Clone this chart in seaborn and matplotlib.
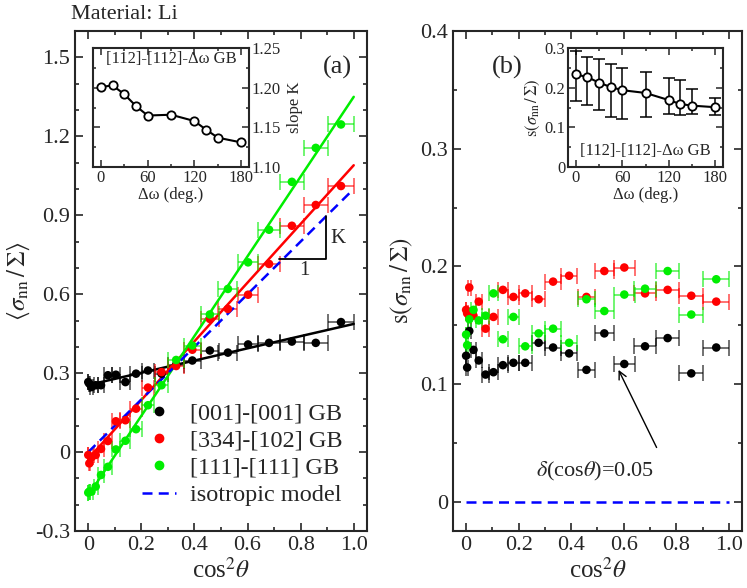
import numpy as np
import pandas as pd
import matplotlib
matplotlib.use('Agg')
import matplotlib.pyplot as plt
import seaborn as sns
from matplotlib.ticker import MultipleLocator
from matplotlib.lines import Line2D

# cos^2(theta) positions and their horizontal error half-widths
cos2 = [0.0, 0.004, 0.012, 0.028, 0.048, 0.074, 0.104, 0.14, 0.18, 0.225,
        0.276, 0.331, 0.392, 0.458, 0.526, 0.602, 0.681, 0.767, 0.857, 0.952]
dcos2 = [0.0, 0.003, 0.005, 0.008, 0.011, 0.014, 0.016, 0.019, 0.021, 0.024,
         0.026, 0.029, 0.031, 0.034, 0.036, 0.039, 0.041, 0.044, 0.046, 0.049]

# panel (a): mean normalised normal stress
mean_001 = [0.266, 0.26, 0.247, 0.254, 0.254, 0.292, 0.294, 0.266, 0.298, 0.31,
            0.298, 0.332, 0.348, 0.386, 0.378, 0.409, 0.415, 0.42, 0.415, 0.494]
mean_334 = [-0.011, -0.043, -0.02, -0.011, 0.012, 0.042, 0.117, 0.121, 0.165, 0.245,
            0.304, 0.327, 0.389, 0.506, 0.544, 0.598, 0.715, 0.86, 0.939, 1.011]
mean_111 = [-0.154, -0.15, -0.15, -0.131, -0.087, -0.056, 0.01, 0.043, 0.087, 0.178,
            0.254, 0.35, 0.405, 0.523, 0.62, 0.721, 0.845, 1.027, 1.156, 1.245]

# fitted lines (end points at cos^2 = 0 and 1)
fit_x = [0.0, 1.0]
fit_001 = [0.255, 0.487]
fit_334 = [-0.025, 1.09]
fit_111 = [-0.165, 1.35]
iso_a = [0.0, 1.0]

# panel (b): standard deviation
s_001 = [0.124, 0.114, 0.145, 0.129, 0.12, 0.108, 0.11, 0.116, 0.118, 0.118,
         0.135, 0.131, 0.126, 0.112, 0.143, 0.117, 0.132, 0.139, 0.109, 0.131]
s_334 = [0.163, 0.16, 0.182, 0.158, 0.17, 0.147, 0.157, 0.18, 0.174, 0.177,
         0.172, 0.187, 0.192, 0.174, 0.196, 0.199, 0.177, 0.18, 0.175, 0.17]
s_111 = [0.142, 0.133, 0.155, 0.163, 0.154, 0.158, 0.177, 0.138, 0.157, 0.132,
         0.143, 0.147, 0.135, 0.172, 0.162, 0.176, 0.181, 0.196, 0.159, 0.189]
iso_b = [0.0, 0.0]

# insets: [112]-[112]-dw GB
dw = [0, 15, 30, 45, 60, 90, 120, 135, 150, 180]
slope_K = [1.201, 1.203, 1.192, 1.177, 1.165, 1.166, 1.158, 1.147, 1.137, 1.131]
s_dw = [0.234, 0.227, 0.213, 0.202, 0.194, 0.187, 0.169, 0.159, 0.155, 0.151]
s_dw_lo = [0.166, 0.157, 0.143, 0.126, 0.122, 0.126, 0.134, 0.132, 0.134, 0.132]
s_dw_hi = [0.294, 0.277, 0.272, 0.261, 0.249, 0.240, 0.224, 0.220, 0.197, 0.174]

labels = ['[001]-[001] GB', '[334]-[102] GB', '[111]-[111] GB']
colors = ['black', '#ff0000', '#00ee00']

sns.set_style('ticks')
plt.rcParams['font.family'] = ['Liberation Serif', 'DejaVu Serif']
plt.rcParams['mathtext.fontset'] = 'stix'
plt.rcParams['axes.linewidth'] = 1.5
plt.rcParams['xtick.direction'] = 'in'
plt.rcParams['ytick.direction'] = 'in'

rows = []
for lab, m, s in zip(labels, [mean_001, mean_334, mean_111], [s_001, s_334, s_111]):
    for x, dx, mv, sv in zip(cos2, dcos2, m, s):
        rows.append({'GB': lab, 'cos2': x, 'dcos2': dx, 'mean': mv, 's': sv})
df = pd.DataFrame(rows)
pal = dict(zip(labels, colors))

fig = plt.figure(figsize=(7.47, 5.88), dpi=100)
ax_a = fig.add_axes([0.1004, 0.0969, 0.3909, 0.8503])
ax_b = fig.add_axes([0.6064, 0.0969, 0.3869, 0.8503])


def style_main(ax):
    ax.set_xlim(-0.05, 1.05)
    ax.set_xticks([0, 0.2, 0.4, 0.6, 0.8, 1.0])
    ax.set_xticklabels(['0', '0.2', '0.4', '0.6', '0.8', '1.0'])
    ax.xaxis.set_minor_locator(MultipleLocator(0.1))
    ax.tick_params(which='both', direction='in', top=True, right=True,
                   labelsize=16, width=1.2)
    ax.tick_params(which='major', length=6)
    ax.tick_params(which='minor', length=3)
    ax.set_xlabel(r'cos$^2\theta$', fontsize=18, labelpad=2)


# ---- panel (a)
for lab, col, fit in zip(labels, colors, [fit_001, fit_334, fit_111]):
    sub = df[df['GB'] == lab]
    ax_a.errorbar(sub['cos2'], sub['mean'], xerr=sub['dcos2'], fmt='none',
                  ecolor=col, alpha=0.6, elinewidth=1.3, capsize=5.5, capthick=1.3)
    sns.lineplot(x=fit_x, y=fit, color=col, lw=1.8, ax=ax_a)
sns.scatterplot(data=df, x='cos2', y='mean', hue='GB', palette=pal, s=38,
                edgecolor='none', ax=ax_a, legend=False, zorder=5)
sns.lineplot(x=fit_x, y=iso_a, color='#0000ff', lw=1.8, ax=ax_a,
             linestyle=(0, (4, 2.5)))

# slope triangle
ax_a.plot([0.72, 0.895, 0.895], [0.734, 0.734, 0.898], color='black', lw=1.3)
ax_a.text(0.94, 0.81, 'K', fontsize=15, ha='center', va='center')
ax_a.text(0.815, 0.69, '1', fontsize=15, ha='center', va='center')
ax_a.text(0.94, 1.46, '(a)', fontsize=19, ha='center', va='center')

ax_a.set_ylim(-0.3, 1.6)
ax_a.set_yticks([-0.3, 0, 0.3, 0.6, 0.9, 1.2, 1.5])
ax_a.set_yticklabels(['-0.3', '0', '0.3', '0.6', '0.9', '1.2', '1.5'])
ax_a.yaxis.set_minor_locator(MultipleLocator(0.1))
style_main(ax_a)
ax_a.set_ylabel(r'$\langle\sigma_{\rm nn}\,/\,\Sigma\rangle$', fontsize=18, labelpad=2)

handles = [Line2D([], [], ls='none', marker='o', color=c, ms=6) for c in colors]
handles.append(Line2D([], [], color='#0000ff', lw=1.8, linestyle=(0, (4, 2.5))))
ax_a.legend(handles, labels + ['isotropic model'], loc='lower right',
            bbox_to_anchor=(0.95, 0.03), frameon=False, fontsize=17.5,
            handlelength=1.4, handletextpad=0.6, labelspacing=0.22,
            borderaxespad=0)

fig.text(0.095, 0.975, 'Material: Li', fontsize=16, ha='left', va='center')

# ---- panel (b)
for lab, col in zip(labels, colors):
    sub = df[df['GB'] == lab]
    ax_b.errorbar(sub['cos2'], sub['s'], xerr=sub['dcos2'], fmt='none',
                  ecolor=col, alpha=0.6, elinewidth=1.3, capsize=5.5, capthick=1.3)
sns.scatterplot(data=df, x='cos2', y='s', hue='GB', palette=pal, s=38,
                edgecolor='none', ax=ax_b, legend=False, zorder=5)
sns.lineplot(x=fit_x, y=iso_b, color='#0000ff', lw=1.8, ax=ax_b,
             linestyle=(0, (4, 2.5)))
ax_b.set_ylim(-0.025, 0.4)
ax_b.set_yticks([0, 0.1, 0.2, 0.3, 0.4])
ax_b.set_yticklabels(['0', '0.1', '0.2', '0.3', '0.4'])
ax_b.yaxis.set_minor_locator(MultipleLocator(0.05))
style_main(ax_b)
ax_b.set_ylabel(r'$\mathrm{s}(\sigma_{\rm nn}\,/\,\Sigma)$', fontsize=18, labelpad=4)
ax_b.text(0.155, 0.369, '(b)', fontsize=19, ha='center', va='center')
ax_b.annotate('', xy=(0.58, 0.112), xytext=(0.725, 0.046),
              arrowprops=dict(arrowstyle='->', color='black', lw=1.0,
                              shrinkA=0, shrinkB=0, mutation_scale=14))
ax_b.text(0.49, 0.026, r'$\delta$(cos$\theta$)=0.05', fontsize=16,
          ha='center', va='center')

# ---- inset (a)
in_a = fig.add_axes([0.1245, 0.716, 0.209, 0.202])
sns.lineplot(x=dw, y=slope_K, color='black', lw=1.5, marker='o', ms=6,
             mfc='white', mec='black', mew=1.3, ax=in_a)
in_a.set_xlim(-10, 190)
in_a.set_ylim(1.10, 1.25)
in_a.set_xticks([0, 60, 120, 180])
in_a.xaxis.set_minor_locator(MultipleLocator(30))
in_a.set_yticks([1.10, 1.15, 1.20, 1.25])
in_a.set_yticklabels(['1.10', '1.15', '1.20', '1.25'])
in_a.yaxis.set_minor_locator(MultipleLocator(0.025))
in_a.yaxis.tick_right()
in_a.yaxis.set_label_position('right')
in_a.tick_params(which='both', direction='in', top=True, left=True, right=True,
                 labelsize=12, width=1.1, labelleft=False, labelright=True, pad=2)
in_a.tick_params(which='major', length=5)
in_a.tick_params(which='minor', length=2.5)
in_a.set_xlabel('Δω (deg.)', fontsize=12, labelpad=1)
in_a.set_ylabel('slope K', fontsize=12, labelpad=4)
in_a.text(90, 1.236, '[112]-[112]-Δω GB', fontsize=12, ha='center', va='center')

# ---- inset (b)
in_b = fig.add_axes([0.7604, 0.716, 0.2075, 0.202])
yerr = [np.subtract(s_dw, s_dw_lo), np.subtract(s_dw_hi, s_dw)]
in_b.errorbar(dw, s_dw, yerr=yerr, fmt='none', ecolor='black', elinewidth=1.1,
              capsize=4, capthick=1.1)
sns.lineplot(x=dw, y=s_dw, color='black', lw=1.5, marker='o', ms=6,
             mfc='white', mec='black', mew=1.3, ax=in_b, zorder=5)
in_b.set_xlim(-10, 190)
in_b.set_ylim(0, 0.3)
in_b.set_xticks([0, 60, 120, 180])
in_b.xaxis.set_minor_locator(MultipleLocator(30))
in_b.set_yticks([0, 0.1, 0.2, 0.3])
in_b.set_yticklabels(['0', '0.1', '0.2', '0.3'])
in_b.yaxis.set_minor_locator(MultipleLocator(0.05))
in_b.tick_params(which='both', direction='in', top=True, right=True,
                 labelsize=12, width=1.1, pad=2)
in_b.tick_params(which='major', length=5)
in_b.tick_params(which='minor', length=2.5)
in_b.set_xlabel('Δω (deg.)', fontsize=12, labelpad=1)
in_b.set_ylabel(r'$\mathrm{s}(\sigma_{\rm nn}\,/\,\Sigma)$', fontsize=12, labelpad=2)
in_b.text(90, 0.04, '[112]-[112]-Δω GB', fontsize=12, ha='center', va='center')

fig.savefig('out.png', dpi=100)
